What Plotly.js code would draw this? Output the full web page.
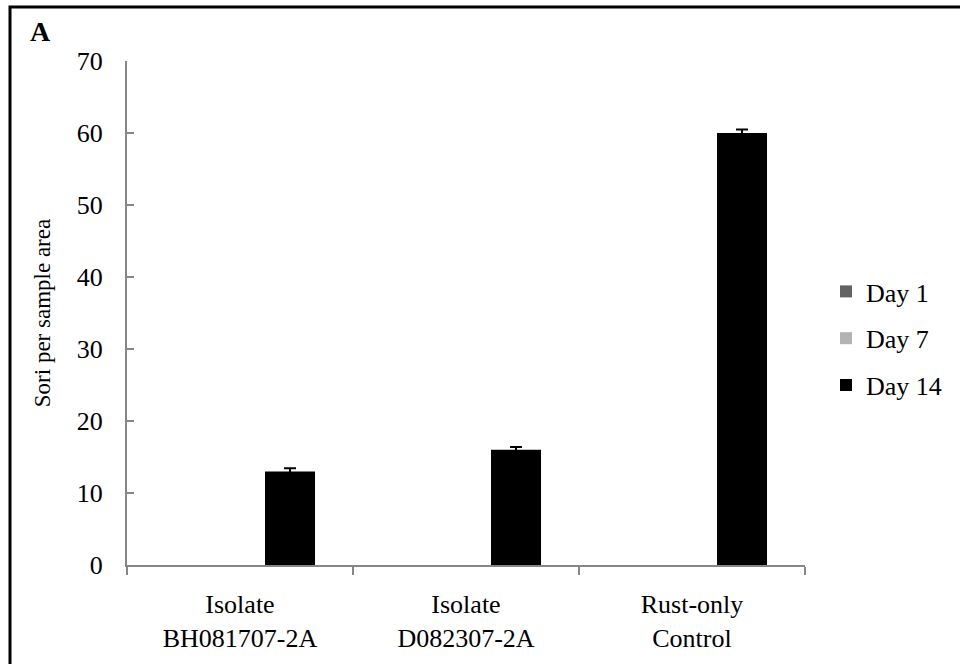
<!DOCTYPE html>
<html>
<head>
<meta charset="utf-8">
<script src="https://cdn.plot.ly/plotly-3.0.1.min.js"></script>
<style>html,body{margin:0;padding:0;background:#fff;}#chart{width:960px;height:664px;}</style>
</head>
<body>
<div id="chart"></div>
<script>
const categories = ["Isolate<br>BH081707-2A", "Isolate<br>D082307-2A", "Rust-only<br>Control"];
const seriesNames = ["Day 1", "Day 7", "Day 14"];
const day1 = [0, 0, 0];
const day7 = [0, 0, 0];
const day14 = [13, 16, 60];
const day14Err = [0.45, 0.4, 0.5];
const yTicks = [0, 10, 20, 30, 40, 50, 60, 70];

const W = 960, H = 664;
const M = {l: 127, r: 155, t: 61, b: 99};
const pw = W - M.l - M.r, ph = H - M.t - M.b;
const px2x = p => (p - M.l) / pw;
const py2y = p => (H - M.b - p) / ph;

const font = "Liberation Serif";
const colors = ["#636363", "#b3b3b3", "#000000"];
const vals = [day1, day7, day14];

const traces = seriesNames.map((n, i) => ({
  type: "bar",
  name: n,
  x: categories,
  y: vals[i],
  legendgroup: n,
  marker: {color: colors[i], line: {width: 0}},
  error_y: i === 2 ? {type: "data", array: day14Err, visible: true, color: "#000", thickness: 2, width: 6} : {visible: false},
  hoverinfo: "y"
}));

const layout = {
  width: W, height: H,
  margin: M,
  paper_bgcolor: "#fff", plot_bgcolor: "#fff",
  font: {family: font, size: 26, color: "#000"},
  barmode: "group",
  bargap: 0.336,
  bargroupgap: 0,
  showlegend: true,
  legend: {
    x: px2x(826), xanchor: "left",
    y: py2y(268), yanchor: "top",
    font: {family: font, size: 26, color: "#000"},
    traceorder: "grouped",
    tracegroupgap: 10,
    bgcolor: "rgba(0,0,0,0)"
  },
  xaxis: {
    type: "category",
    showline: true, linecolor: "#868686", linewidth: 2,
    ticks: "outside", tickson: "boundaries", ticklen: 8, tickcolor: "#868686", tickwidth: 2,
    showgrid: false, zeroline: false,
    tickfont: {family: font, size: 26, color: "#000"},
    ticklabelstandoff: 15,
    automargin: false
  },
  yaxis: {
    range: [0, 70],
    tickvals: yTicks,
    ticktext: yTicks.map(String),
    showline: true, linecolor: "#868686", linewidth: 2,
    ticks: "inside", ticklen: 7, tickcolor: "#868686", tickwidth: 2,
    showgrid: false, zeroline: false,
    tickfont: {family: font, size: 26, color: "#000"},
    ticklabelstandoff: 17,
    title: {text: "Sori per sample area", font: {family: font, size: 23, color: "#000"}, standoff: 20},
    automargin: true
  },
  annotations: [{
    xref: "paper", yref: "paper",
    x: px2x(28), y: py2y(32), xanchor: "left", yanchor: "middle",
    text: "<b>A</b>", showarrow: false,
    font: {family: font, size: 28, color: "#000"}
  }],
  shapes: [{
    type: "rect", xref: "paper", yref: "paper",
    x0: px2x(10), x1: px2x(990), y0: py2y(700), y1: py2y(7),
    line: {color: "#000", width: 3}, fillcolor: "rgba(0,0,0,0)", layer: "above"
  }]
};

Plotly.newPlot("chart", traces, layout, {displayModeBar: false, staticPlot: true});
</script>
</body>
</html>
